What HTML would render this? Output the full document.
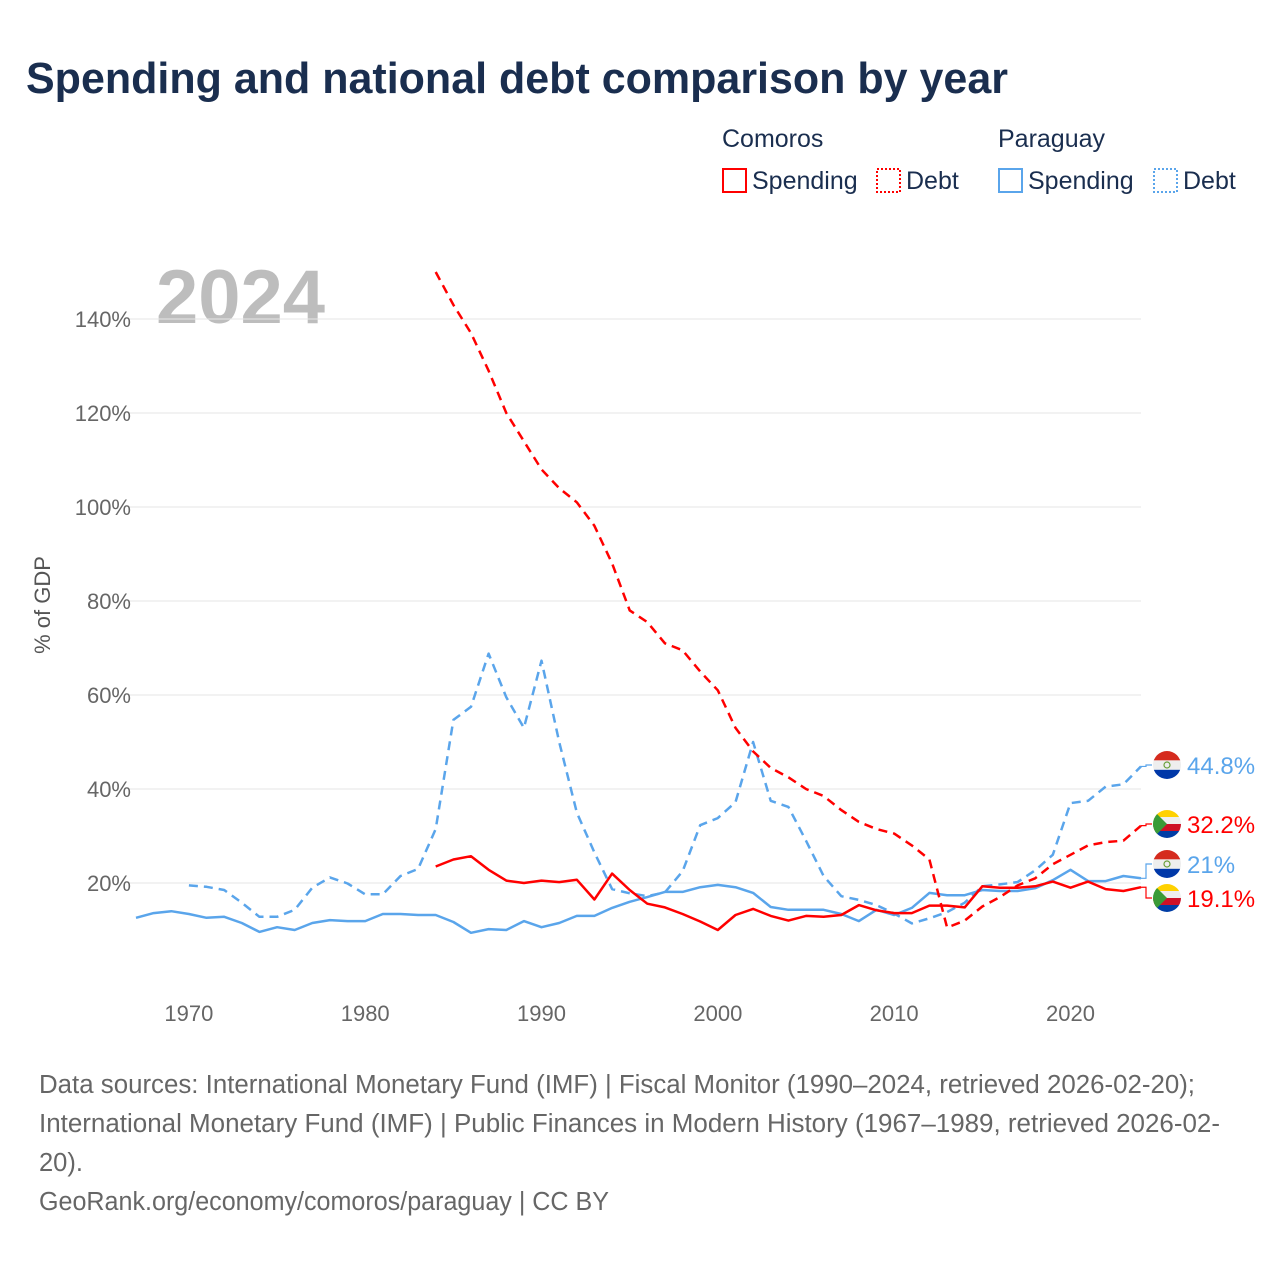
<!DOCTYPE html>
<html><head><meta charset="utf-8"><style>
body{margin:0;background:#fff;font-family:"Liberation Sans",sans-serif}
#wrap{position:relative;width:1280px;height:1280px;overflow:hidden}
</style></head><body><div id="wrap">
<svg id="svg" width="1280" height="1280" xmlns="http://www.w3.org/2000/svg">
<defs id="defs"></defs>
<text x="26" y="93" font-size="44" font-weight="bold" fill="#1a2e4f" textLength="982" lengthAdjust="spacingAndGlyphs">Spending and national debt comparison by year</text>
<g font-size="25" fill="#1a2e4f">
<text x="722" y="147">Comoros</text>
<text x="998" y="147">Paraguay</text>
<g><rect x="723" y="169" width="23" height="23" fill="none" stroke="#ff0000" stroke-width="2"/><text x="752" y="189">Spending</text></g>
<g><rect x="877" y="169" width="23" height="23" fill="none" stroke="#ff0000" stroke-width="2" stroke-dasharray="2,2"/><text x="906" y="189">Debt</text></g>
<g><rect x="999" y="169" width="23" height="23" fill="none" stroke="#5aa5eb" stroke-width="2"/><text x="1028" y="189">Spending</text></g>
<g><rect x="1154" y="169" width="23" height="23" fill="none" stroke="#5aa5eb" stroke-width="2" stroke-dasharray="2,2"/><text x="1183" y="189">Debt</text></g>
</g>
<text x="156" y="323" font-size="76" font-weight="bold" fill="#bdbdbd">2024</text>
<text transform="translate(50,605) rotate(-90)" text-anchor="middle" font-size="22" fill="#555">% of GDP</text>
<g id="grid"></g><g id="series"></g><g id="ends"></g>
<g font-size="25.5" fill="#666">
<text x="39" y="1093" textLength="1156" lengthAdjust="spacingAndGlyphs">Data sources: International Monetary Fund (IMF) | Fiscal Monitor (1990–2024, retrieved 2026-02-20);</text>
<text x="39" y="1132" textLength="1181" lengthAdjust="spacingAndGlyphs">International Monetary Fund (IMF) | Public Finances in Modern History (1967–1989, retrieved 2026-02-</text>
<text x="39" y="1171">20).</text>
<text x="39" y="1210" textLength="570" lengthAdjust="spacingAndGlyphs">GeoRank.org/economy/comoros/paraguay | CC BY</text>
</g>
</svg></div>
<script>
const yTicks=[20,40,60,80,100,120,140];
const xTicks=[1970,1980,1990,2000,2010,2020];
const pySpendStart=1967;
const pySpend=[12.6,13.6,14.0,13.4,12.6,12.8,11.5,9.6,10.6,10.0,11.5,12.1,11.9,11.9,13.4,13.4,13.2,13.2,11.7,9.4,10.2,10.0,11.9,10.6,11.5,13.0,13.0,14.7,16.0,17.0,18.1,18.1,19.1,19.6,19.1,17.9,14.9,14.3,14.3,14.3,13.4,11.9,14.3,13.2,14.7,17.9,17.4,17.4,18.5,18.3,18.3,18.9,20.6,22.8,20.4,20.4,21.5,21.0];
const pyDebtStart=1970;
const pyDebt=[19.5,19.2,18.5,15.8,12.8,12.8,14.3,19.0,21.2,19.9,17.6,17.6,21.5,23.0,31.5,54.7,57.5,68.8,59.5,53,67.3,50,35,26.5,18.7,17.8,17.2,18.0,22.5,32.3,33.8,37.2,50,37.5,36.2,29,21.5,17.2,16.4,15.3,13.5,11.4,12.5,13.8,15.8,19.3,19.7,20.2,22.7,26,37,37.5,40.5,41,44.8];
const kmStart=1984;
const kmSpend=[23.5,25.0,25.7,22.8,20.5,20.0,20.5,20.2,20.7,16.5,22.0,18.5,15.6,14.8,13.4,11.8,10.0,13.2,14.5,13.0,12.0,13.0,12.8,13.2,15.3,14.2,13.6,13.6,15.2,15.2,14.8,19.3,19.0,19.0,19.3,20.3,19.0,20.3,18.7,18.3,19.1];
const kmDebt=[150,143,137,129,120,114,108,104,101,96,88,78,75.5,71,69.5,65,61,53,48,44.5,42.5,40,38.5,35.5,33,31.5,30.5,28,25,10.5,12,15,17,19.5,21,24,26,28,28.7,29,32.2];
const NS="http://www.w3.org/2000/svg";
const X=yr=>136+(yr-1967)*(1141-136)/57;
const Y=v=>977-v*4.7;
function mk(t,a,p){const e=document.createElementNS(NS,t);for(const k in a)e.setAttribute(k,a[k]);p.appendChild(e);return e;}
const grid=document.getElementById('grid');
yTicks.forEach(v=>{
 const l=mk('line',{x1:128,x2:1141,y1:Y(v),y2:Y(v),stroke:'#e6e6e6','stroke-width':1},grid);
 
 
 const t=mk('text',{x:131,y:Y(v)+8,'text-anchor':'end','font-size':22,fill:'#666'},grid);t.textContent=v+'%';
 
 
});
xTicks.forEach(yr=>{
 const t=mk('text',{x:X(yr),y:1021,'text-anchor':'middle','font-size':22,fill:'#666'},grid);t.textContent=yr;
 
 
});
const ser=document.getElementById('series');
function line(arr,start,color,dash,name){
 const d=arr.map((v,i)=>(i?'L':'M')+X(start+i).toFixed(1)+','+Y(v).toFixed(1)).join('');
 const p=mk('path',{d:d,fill:'none',stroke:color,'stroke-width':2.5,'stroke-linejoin':'round'},ser);
 if(dash)p.setAttribute('stroke-dasharray','9,6');
 
 
}
line(pySpend,pySpendStart,'#5aa5eb',false,'paraguay-spending-line');
line(pyDebt,pyDebtStart,'#5aa5eb',true,'paraguay-debt-line');
line(kmSpend,kmStart,'#ff0000',false,'comoros-spending-line');
line(kmDebt,kmStart,'#ff0000',true,'comoros-debt-line');
const ends=document.getElementById('ends');
const defs=document.getElementById('defs');
const labs=[[pyDebt[pyDebt.length-1],765,'#5aa5eb','py','paraguay-debt-end-label'],[kmDebt[kmDebt.length-1],824,'#ff0000','km','comoros-debt-end-label'],[pySpend[pySpend.length-1],864,'#5aa5eb','py','paraguay-spending-end-label'],[kmSpend[kmSpend.length-1],898,'#ff0000','km','comoros-spending-end-label']];
labs.forEach(([v,cy,c,f,n],i)=>{
 const g=mk('g',{},ends);
 
 
 mk('path',{d:`M1141,${Y(v)}H1146V${cy}H1152`,fill:'none',stroke:c,'stroke-width':1.2},g);
 const cx=1167,r=14;
 const cp=mk('clipPath',{id:'cp'+i},defs);
 mk('circle',{cx:cx,cy:cy,r:r},cp);
 const fg=mk('g',{'clip-path':`url(#cp${i})`},g);
 if(f==='py'){
  mk('rect',{x:cx-r,y:cy-r,width:28,height:9.4,fill:'#d52b1e'},fg);
  mk('rect',{x:cx-r,y:cy-r+9.4,width:28,height:9.4,fill:'#eee'},fg);
  mk('rect',{x:cx-r,y:cy-r+18.8,width:28,height:9.4,fill:'#0038a8'},fg);
  mk('circle',{cx:cx,cy:cy,r:3,fill:'none',stroke:'#6a9f3a','stroke-width':1.2},fg);
 }else{
  mk('rect',{x:cx-r,y:cy-r,width:28,height:7,fill:'#ffd100'},fg);
  mk('rect',{x:cx-r,y:cy-r+7,width:28,height:7,fill:'#eee'},fg);
  mk('rect',{x:cx-r,y:cy-r+14,width:28,height:7,fill:'#ce1126'},fg);
  mk('rect',{x:cx-r,y:cy-r+21,width:28,height:7,fill:'#003da5'},fg);
  mk('path',{d:`M${cx-r},${cy-r}L${cx},${cy}L${cx-r},${cy+r}Z`,fill:'#3a9b37'},fg);
 }
 const t=mk('text',{x:1187,y:cy+9,'font-size':24,fill:c},g);t.textContent=v+'%';
});
</script></body></html>
